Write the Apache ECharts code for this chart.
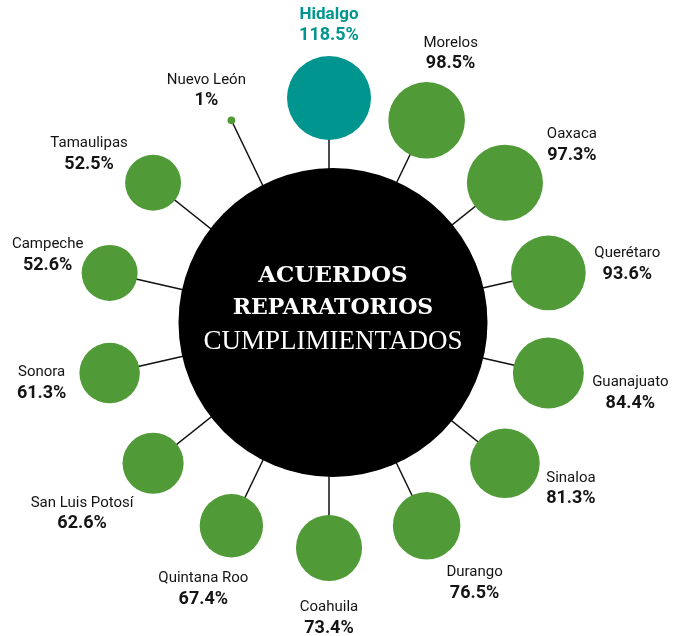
<!DOCTYPE html>
<html>
<head>
<meta charset="utf-8">
<script src="https://cdn.jsdelivr.net/npm/echarts@6/dist/echarts.min.js"></script>
<style>
  html, body { margin: 0; padding: 0; background: #fff; }
  #chart { width: 684px; height: 636px; }
</style>
</head>
<body>
<div id="chart"></div>
<script>
// estados, en el orden de las agujas del reloj empezando arriba
const states = ['Hidalgo', 'Morelos', 'Oaxaca', 'Querétaro', 'Guanajuato', 'Sinaloa', 'Durango',
  'Coahuila', 'Quintana Roo', 'San Luis Potosí', 'Sonora', 'Campeche', 'Tamaulipas', 'Nuevo León'];
const values = [118.5, 98.5, 97.3, 93.6, 84.4, 81.3, 76.5, 73.4, 67.4, 62.6, 61.3, 52.6, 52.5, 1];
const highlighted = ['Hidalgo'];

// desplazamiento de cada etiqueta respecto al centro de su círculo (px)
const labelOffsets = [[0, -73], [24, -67], [67, -38], [79, -9], [82, 20], [66, 25], [48, 57],
  [0, 70], [-28, 63], [-71, 50], [-68, 10], [-62, -18], [-64, -29], [-25, -30]];

const GREEN = '#509b38';
const TEAL = '#00968f';

const chart = echarts.init(document.getElementById('chart'));

const fmt = (v) => (Number.isInteger(v) ? v : v.toFixed(1)) + '%';

const titleText = (y, text, size, weight, family) => ({
  type: 'text',
  z: 11,
  x: 333,
  y: y,
  style: {
    text: text,
    fill: '#fff',
    align: 'center',
    verticalAlign: 'middle',
    fontSize: size,
    fontWeight: weight,
    fontFamily: family
  }
});

const option = {
  animation: false,
  polar: { center: [329, 323], radius: 225 },
  angleAxis: {
    type: 'category',
    data: states,
    boundaryGap: false,
    startAngle: 90,
    show: false
  },
  radiusAxis: { type: 'value', min: 0, max: 1, show: false },
  graphic: [
    {
      type: 'circle',
      z: 10,
      shape: { cx: 333, cy: 322.5, r: 154.5 },
      style: { fill: '#000' }
    },
    titleText(276, 'ACUERDOS', 23, 'bold', 'DejaVu Serif'),
    titleText(308, 'REPARATORIOS', 22, 'bold', 'DejaVu Serif'),
    titleText(342, 'CUMPLIMIENTADOS', 27, 'normal', 'Liberation Serif')
  ],
  series: [
    {
      type: 'custom',
      coordinateSystem: 'polar',
      silent: true,
      z: 1,
      data: states.map((s) => [1, s]),
      renderItem: (params, api) => {
        const idx = api.value(1);
        const p0 = api.coord([0.55, idx]);
        const p1 = api.coord([1, idx]);
        return {
          type: 'line',
          shape: { x1: p0[0], y1: p0[1], x2: p1[0], y2: p1[1] },
          style: { stroke: '#111', lineWidth: 1.5 }
        };
      }
    },
    {
      type: 'scatter',
      coordinateSystem: 'polar',
      silent: true,
      z: 3,
      symbol: 'circle',
      symbolSize: (val, params) => 7.72 * Math.sqrt(values[params.dataIndex]),
      data: states.map((s, i) => {
        const hl = highlighted.includes(s);
        const col = hl ? TEAL : '#141414';
        return {
          value: [1, s],
          itemStyle: { color: hl ? TEAL : GREEN, opacity: 1 },
          label: {
            show: true,
            position: 'inside',
            offset: labelOffsets[i],
            formatter: '{n|' + s + '}\n{v|' + fmt(values[i]) + '}',
            rich: {
              n: { fontFamily: 'Roboto', fontSize: hl ? 17 : 15, lineHeight: 21, align: 'center',
                color: col, fontWeight: hl ? 'bold' : 'normal' },
              v: { fontFamily: 'Roboto', fontSize: 18, lineHeight: 21, align: 'center',
                fontWeight: 'bold', color: col }
            }
          }
        };
      })
    }
  ]
};

chart.setOption(option);
</script>
</body>
</html>
